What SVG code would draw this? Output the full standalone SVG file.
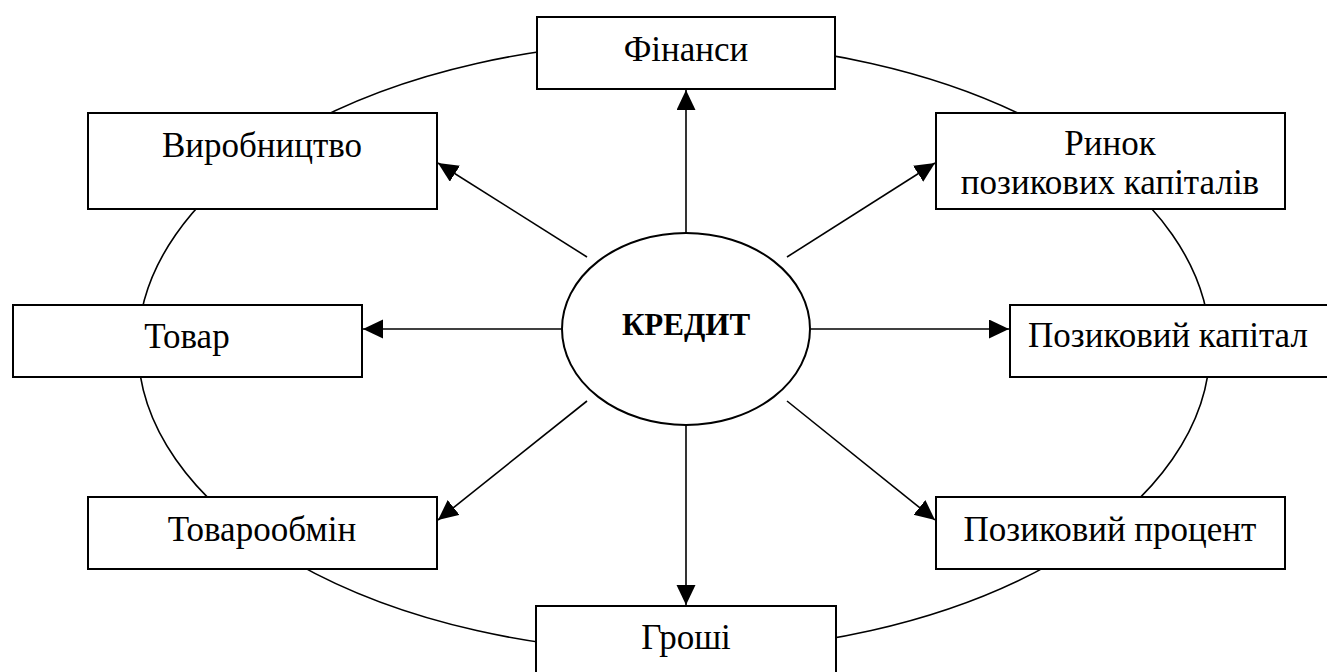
<svg xmlns="http://www.w3.org/2000/svg" width="1327" height="672" viewBox="0 0 1327 672">
<style>
.box{fill:#fff;stroke:#000;stroke-width:2}
.t{font-family:"Liberation Serif","Times New Roman",serif;font-size:35px;fill:#000;text-anchor:middle}
.b{font-size:31px;font-weight:bold}
.c{stroke:#000;stroke-width:1.6;fill:none}
</style>
<defs>
<marker id="ah" markerUnits="userSpaceOnUse" markerWidth="22" markerHeight="20" refX="20" refY="9.5" orient="auto">
<path d="M0,0 L20,9.5 L0,19 Z" fill="#000"/>
</marker>
</defs>
<rect width="1327" height="672" fill="#fff"/>
<ellipse id="ring" cx="674" cy="347" rx="536" ry="305" class="c"/>
<g id="connectors">
<line class="c" x1="686" y1="232" x2="686" y2="90" marker-end="url(#ah)"/>
<line class="c" x1="686" y1="426" x2="686" y2="605" marker-end="url(#ah)"/>
<line class="c" x1="561" y1="329" x2="363" y2="329" marker-end="url(#ah)"/>
<line class="c" x1="811" y1="329" x2="1009" y2="329" marker-end="url(#ah)"/>
<line class="c" x1="587" y1="257" x2="438" y2="163" marker-end="url(#ah)"/>
<line class="c" x1="787" y1="257" x2="935" y2="163" marker-end="url(#ah)"/>
<line class="c" x1="587" y1="401" x2="438" y2="520" marker-end="url(#ah)"/>
<line class="c" x1="787" y1="401" x2="935" y2="520" marker-end="url(#ah)"/>
</g>
<g id="credit">
<ellipse cx="686" cy="329" rx="124" ry="96" class="box"/>
<text class="t b" x="686" y="335">КРЕДИТ</text>
</g>
<g id="finansy">
<rect class="box" x="537" y="17" width="298" height="72"/>
<text class="t" x="686" y="61">Фінанси</text>
</g>
<g id="vyrobnytstvo">
<rect class="box" x="88" y="113" width="349" height="96"/>
<text class="t" x="262" y="157">Виробництво</text>
</g>
<g id="tovar">
<rect class="box" x="13" y="305" width="349" height="72"/>
<text class="t" x="187" y="348">Товар</text>
</g>
<g id="tovaroobmin">
<rect class="box" x="88" y="497" width="349" height="72"/>
<text class="t" x="262" y="541">Товарообмін</text>
</g>
<g id="groshi">
<rect class="box" x="536" y="606" width="300" height="72"/>
<text class="t" x="686" y="649">Гроші</text>
</g>
<g id="rynok">
<rect class="box" x="936" y="113" width="349" height="96"/>
<text class="t" x="1110" y="155">Ринок</text>
<text class="t" x="1110" y="194">позикових капіталів</text>
</g>
<g id="pozykovyi-kapital">
<rect class="box" x="1010" y="305" width="340" height="72"/>
<text class="t" x="1168" y="347">Позиковий капітал</text>
</g>
<g id="pozykovyi-protsent">
<rect class="box" x="936" y="497" width="349" height="72"/>
<text class="t" x="1110" y="541">Позиковий процент</text>
</g>
</svg>
